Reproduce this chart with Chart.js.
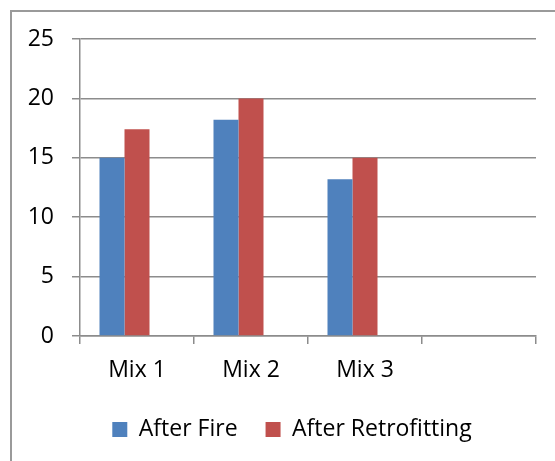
<!DOCTYPE html>
<html>
<head>
<meta charset="utf-8">
<script src="https://cdn.jsdelivr.net/npm/chart.js@4/dist/chart.umd.min.js"></script>
<style>
  html, body { margin: 0; padding: 0; background: #fff; }
  #wrap { position: relative; width: 555px; height: 461px; }
</style>
</head>
<body>
<div id="wrap"><canvas id="c" width="555" height="461"></canvas></div>
<script>
// Categories and series values
const categories = ['Mix 1', 'Mix 2', 'Mix 3', ''];
const afterFire = [15, 18.2, 13.2, null];
const afterRetrofitting = [17.4, 20, 15, null];
const spareSeries = [null, null, null, null];
const yTicks = [0, 5, 10, 15, 20, 25];

const FONT = '"Open Sans", Lato, "Liberation Sans", sans-serif';
const FONT_SIZE = 23;
const GRID = '#8c8c8c';

// Frame line along the top and left edge of the chart
const framePlugin = {
  id: 'frame',
  beforeDraw(chart) {
    const ctx = chart.ctx;
    ctx.save();
    ctx.fillStyle = '#fff';
    ctx.fillRect(0, 0, chart.width, chart.height);
    ctx.strokeStyle = '#9a9a9a';
    ctx.lineWidth = 2;
    ctx.beginPath();
    ctx.moveTo(11, chart.height);
    ctx.lineTo(11, 11);
    ctx.lineTo(chart.width, 11);
    ctx.stroke();
    ctx.restore();
  }
};

// Nudge the legend box to the right so it centres under the plot
const legendShift = {
  id: 'legendShift',
  afterLayout(chart) {
    if (chart.legend) {
      chart.legend.left += 24;
      chart.legend.right += 24;
    }
  }
};

new Chart(document.getElementById('c'), {
  type: 'bar',
  data: {
    labels: categories,
    datasets: [
      { label: 'After Fire', data: afterFire, backgroundColor: '#4F81BD', borderWidth: 0 },
      { label: 'After Retrofitting', data: afterRetrofitting, backgroundColor: '#C0504D', borderWidth: 0 },
      { label: '', data: spareSeries, backgroundColor: 'rgba(0,0,0,0)' }
    ]
  },
  options: {
    responsive: false,
    animation: false,
    devicePixelRatio: 1,
    layout: { padding: { left: 0, right: 19, top: 39, bottom: 10 } },
    datasets: { bar: { categoryPercentage: 0.658, barPercentage: 1 } },
    plugins: {
      tooltip: { enabled: false },
      legend: {
        position: 'bottom',
        labels: {
          filter: (item) => item.text !== '',
          boxWidth: 15,
          boxHeight: 15,
          padding: 28,
          color: '#000',
          font: { family: FONT, size: FONT_SIZE }
        }
      }
    },
    scales: {
      x: {
        afterFit(scale) { scale.height = 54; },
        grid: { offset: true, drawOnChartArea: false, color: GRID, lineWidth: 1.5, tickLength: 8 },
        border: { color: GRID, width: 1.5 },
        ticks: { color: '#000', padding: 13, font: { family: FONT, size: FONT_SIZE }, maxRotation: 0 }
      },
      y: {
        min: 0,
        max: 25,
        afterFit(scale) { scale.width = 80; },
        afterBuildTicks(scale) { scale.ticks = yTicks.map(v => ({ value: v })); },
        grid: { color: GRID, lineWidth: 1.5, tickLength: 8 },
        border: { color: GRID, width: 1.5 },
        ticks: { color: '#000', padding: 18, font: { family: FONT, size: FONT_SIZE } }
      }
    }
  },
  plugins: [framePlugin, legendShift]
});
</script>
</body>
</html>
